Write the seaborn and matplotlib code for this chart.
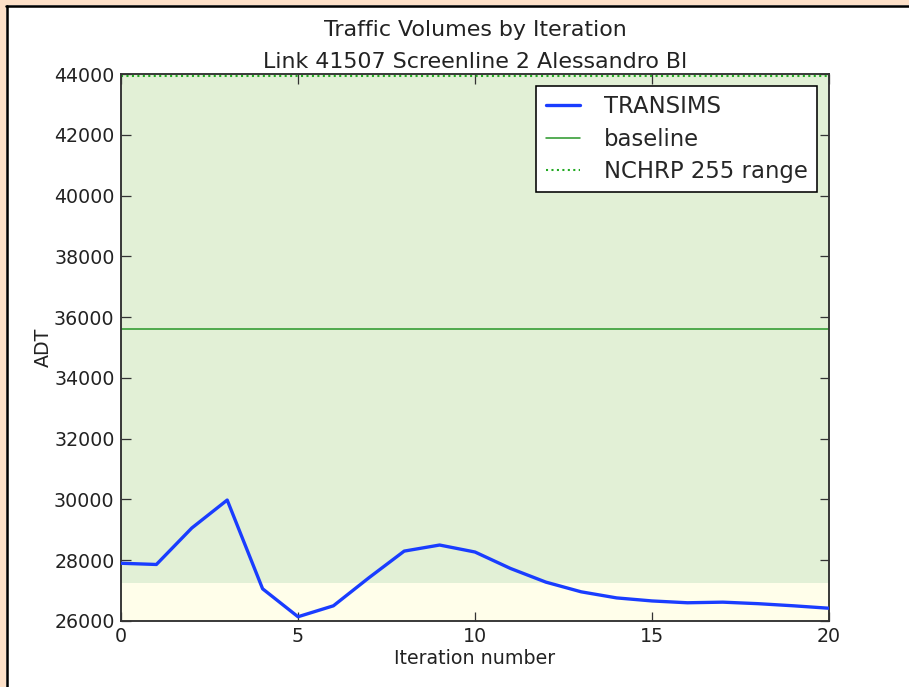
import matplotlib
matplotlib.use("Agg")
import matplotlib.pyplot as plt
import seaborn as sns
import pandas as pd
from matplotlib.patches import Rectangle
from matplotlib.lines import Line2D

# ---- data ----
iterations = list(range(21))
transims = [27900, 27860, 29060, 29980, 27060, 26140, 26500, 27420, 28300, 28500,
            28270, 27730, 27280, 26960, 26760, 26660, 26600, 26620, 26570, 26500, 26420]
baseline = 35600
nchrp_low = 27260
nchrp_high = 43940
title_lines = ["Traffic Volumes by Iteration", "Link 41507 Screenline 2 Alessandro Bl"]
y_ticks = [26000, 28000, 30000, 32000, 34000, 36000, 38000, 40000, 42000, 44000]
x_ticks = [0, 5, 10, 15, 20]

df = pd.DataFrame({"Iteration number": iterations, "ADT": transims})

sns.set_theme(style="white")
plt.rcParams["font.family"] = ["DejaVu Sans"]
plt.rcParams["xtick.direction"] = "in"
plt.rcParams["ytick.direction"] = "in"

W, H, DPI = 909, 687, 114
fig = plt.figure(figsize=(W / DPI, H / DPI), dpi=DPI, facecolor="white")

# screenshot frame
fig.patches.append(Rectangle((0, 1 - 5 / H), 1, 5 / H, transform=fig.transFigure,
                             facecolor="#fde0c8", edgecolor="none", zorder=0))
fig.patches.append(Rectangle((0, 0), 6 / W, 1, transform=fig.transFigure,
                             facecolor="#fde0c8", edgecolor="none", zorder=0))
fig.add_artist(Line2D([6.5 / W, 6.5 / W], [0, 1 - 5.5 / H], transform=fig.transFigure,
                      color="black", lw=1.6))
fig.add_artist(Line2D([6 / W, 1], [1 - 5.5 / H, 1 - 5.5 / H], transform=fig.transFigure,
                      color="black", lw=1.6))

ax = fig.add_axes([121 / W, (H - 621) / H, (829 - 121) / W, (621 - 74) / H])
ax.set_facecolor("#fffeea")
ax.axhspan(nchrp_low, nchrp_high, color="#e2f0d6", zorder=0, lw=0)
ax.axhspan(nchrp_high, 44000, color="#e2f0d6", zorder=0, lw=0)

sns.lineplot(data=df, x="Iteration number", y="ADT", ax=ax, color="#1a3dff",
             lw=2.1, label="TRANSIMS", zorder=3)
ax.axhline(baseline, color="#2e9a2e", lw=1.0, label="baseline", zorder=2)
ax.axhline(nchrp_high, color="#22aa22", lw=1.3, ls=":", label="NCHRP 255 range", zorder=2)

ax.set_xlim(0, 20)
ax.set_ylim(26000, 44000)
ax.set_xticks(x_ticks)
ax.set_yticks(y_ticks)
ax.tick_params(axis="both", which="major", direction="in", length=6, width=0.8,
               color="#333333", labelsize=12, labelcolor="#222222",
               top=True, right=True, bottom=True, left=True, pad=4)
for s in ax.spines.values():
    s.set_color("#333333")
    s.set_linewidth(1.2)
    s.set_visible(True)

ax.set_xlabel("Iteration number", fontsize=12, color="#222222", labelpad=2)
ax.set_ylabel("ADT", fontsize=12, color="#222222", labelpad=1)
ax.set_title("\n".join(title_lines), fontsize=14, color="#222222", pad=4, linespacing=1.75)

leg = ax.legend(loc="upper right", fontsize=14.4, frameon=True, fancybox=False,
                borderpad=0.42, handlelength=1.5, handletextpad=1.05, labelspacing=0.4,
                borderaxespad=0.52)
leg.get_frame().set_edgecolor("black")
leg.get_frame().set_linewidth(1.0)
leg.get_frame().set_facecolor("white")
leg.get_frame().set_alpha(1.0)

fig.savefig("out.png", dpi=DPI, facecolor="white")
